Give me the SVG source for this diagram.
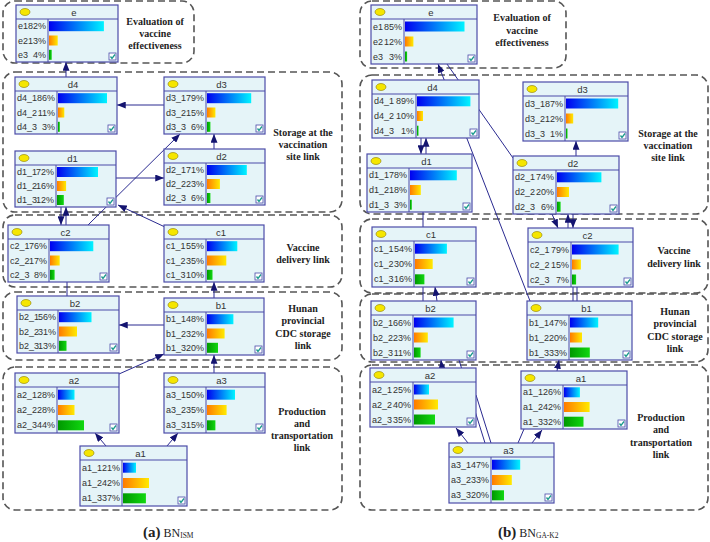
<svg xmlns="http://www.w3.org/2000/svg" width="710" height="542" viewBox="0 0 710 542">
<defs>
<style>
.nb{fill:#e5f4f8;stroke:#4b4ba8;stroke-width:1.2}
.nl{fill:none;stroke:#4b4ba8;stroke-width:1}
.el{fill:#f5e600;stroke:#8a7a00;stroke-width:0.6}
.tt{font-family:"Liberation Sans",Arial,sans-serif;font-size:9.5px;fill:#333;text-anchor:middle}
.rt{font-family:"Liberation Sans",Arial,sans-serif;font-size:9px;fill:#333}
.r{text-anchor:end}
.g1{fill:url(#gb)}.g2{fill:url(#go)}.g3{fill:url(#gg)}
.cb{fill:#fff;stroke:#4b4ba8;stroke-width:0.8}
.ck{fill:none;stroke:#1a9a8c;stroke-width:1.3}
.grp{fill:none;stroke:#555;stroke-width:1.6;stroke-dasharray:7 4}
.gl{font-family:"Liberation Serif","Times New Roman",serif;font-weight:bold;font-size:10px;fill:#222;text-anchor:middle}
.cn{fill:none;stroke:#2a2a90;stroke-width:1}
.ar{marker-end:url(#ah)}
.cap{font-family:"Liberation Serif","Times New Roman",serif;fill:#222}
</style>
<linearGradient id="gb" x1="0" y1="0" x2="1" y2="0"><stop offset="0" stop-color="#0000f0"/><stop offset="1" stop-color="#00f4ff"/></linearGradient>
<linearGradient id="go" x1="0" y1="0" x2="1" y2="0"><stop offset="0" stop-color="#ff7a00"/><stop offset="1" stop-color="#ffea00"/></linearGradient>
<linearGradient id="gg" x1="0" y1="0" x2="1" y2="0"><stop offset="0" stop-color="#009800"/><stop offset="1" stop-color="#10d810"/></linearGradient>
<marker id="ah" viewBox="0 0 10 8" refX="10" refY="4" markerWidth="9" markerHeight="7" orient="auto" markerUnits="userSpaceOnUse"><path d="M0,0 L10,4 L0,8 z" fill="#141470"/></marker>
</defs>
<rect width="710" height="542" fill="#fff"/>

<g id="groups">
<rect class="grp" x="3" y="1" width="191" height="62" rx="12"/>
<rect class="grp" x="3" y="72" width="339" height="140" rx="12"/>
<rect class="grp" x="3" y="215" width="339" height="72" rx="12"/>
<rect class="grp" x="3" y="292" width="339" height="68" rx="12"/>
<rect class="grp" x="3" y="367" width="339" height="143" rx="12"/>
<rect class="grp" x="360" y="1" width="206" height="67" rx="12"/>
<rect class="grp" x="360" y="75" width="348" height="139" rx="12"/>
<rect class="grp" x="360" y="219" width="348" height="74" rx="12"/>
<rect class="grp" x="360" y="294" width="348" height="68" rx="12"/>
<rect class="grp" x="360" y="365" width="348" height="145" rx="12"/>
<text class="gl" x="155" y="24.5">Evaluation of</text>
<text class="gl" x="155" y="36.5">vaccine</text>
<text class="gl" x="155" y="48.5">effectiveness</text>
<text class="gl" x="303" y="135.5">Storage at the</text>
<text class="gl" x="303" y="147.5">vaccination</text>
<text class="gl" x="303" y="159.5">site link</text>
<text class="gl" x="303" y="250.5">Vaccine</text>
<text class="gl" x="303" y="262.5">delivery link</text>
<text class="gl" x="303" y="311.5">Hunan</text>
<text class="gl" x="303" y="324">provincial</text>
<text class="gl" x="303" y="336.5">CDC storage</text>
<text class="gl" x="303" y="348.5">link</text>
<text class="gl" x="302" y="414.5">Production</text>
<text class="gl" x="302" y="426.5">and</text>
<text class="gl" x="302" y="439">transportation</text>
<text class="gl" x="302" y="450.5">link</text>
<text class="gl" x="522" y="21">Evaluation of</text>
<text class="gl" x="522" y="33.5">vaccine</text>
<text class="gl" x="522" y="46">effectiveness</text>
<text class="gl" x="668" y="136.5">Storage at the</text>
<text class="gl" x="668" y="148.5">vaccination</text>
<text class="gl" x="668" y="160.5">site link</text>
<text class="gl" x="674" y="253.5">Vaccine</text>
<text class="gl" x="674" y="266.5">delivery link</text>
<text class="gl" x="675" y="314.5">Hunan</text>
<text class="gl" x="675" y="326.5">provincial</text>
<text class="gl" x="675" y="339.5">CDC storage</text>
<text class="gl" x="675" y="351.5">link</text>
<text class="gl" x="661" y="420.5">Production</text>
<text class="gl" x="661" y="433">and</text>
<text class="gl" x="661" y="445.5">transportation</text>
<text class="gl" x="661" y="458">link</text>
</g>

<g id="connectors">
<line class="cn ar" x1="66" y1="77" x2="66" y2="62"/>
<line class="cn ar" x1="164" y1="105" x2="117" y2="105"/>
<line class="cn ar" x1="116" y1="178" x2="164" y2="178"/>
<line class="cn ar" x1="88" y1="225" x2="180" y2="134"/>
<line class="cn ar" x1="214" y1="149" x2="214" y2="134"/>
<line class="cn ar" x1="165" y1="227" x2="118" y2="205"/>
<line class="cn ar" x1="66" y1="225" x2="66" y2="207"/>
<line class="cn ar" x1="61" y1="207" x2="61" y2="225"/>
<line class="cn" x1="67" y1="282" x2="67" y2="296"/>
<line class="cn ar" x1="214" y1="298" x2="214" y2="282"/>
<line class="cn ar" x1="164" y1="325" x2="119" y2="325"/>
<line class="cn ar" x1="119" y1="374" x2="164" y2="354"/>
<line class="cn ar" x1="214" y1="373" x2="214" y2="355"/>
<line class="cn ar" x1="106" y1="446" x2="95" y2="433"/>
<line class="cn ar" x1="167" y1="446" x2="178" y2="433"/>

<line class="cn ar" x1="530" y1="301" x2="438" y2="64"/>
<line class="cn" x1="513" y1="158" x2="447" y2="64"/>
<line class="cn ar" x1="426" y1="154" x2="426" y2="138"/>
<line class="cn ar" x1="421" y1="138" x2="421" y2="154"/>
<line class="cn ar" x1="576" y1="156" x2="576" y2="141"/>
<line class="cn" x1="423" y1="212" x2="423" y2="227"/>
<line class="cn ar" x1="552" y1="214" x2="558" y2="228"/>
<line class="cn ar" x1="568" y1="228" x2="568" y2="214"/>
<line class="cn ar" x1="573" y1="214" x2="573" y2="228"/>
<line class="cn" x1="573" y1="287" x2="573" y2="301"/>
<line class="cn" x1="577" y1="287" x2="577" y2="301"/>
<line class="cn ar" x1="437" y1="301" x2="435" y2="287"/>
<line class="cn" x1="423" y1="287" x2="423" y2="301"/>
<line class="cn ar" x1="442" y1="368" x2="441" y2="360"/>
<line class="cn" x1="459" y1="360" x2="485" y2="443"/>
<line class="cn" x1="476" y1="395" x2="491" y2="443"/>
<line class="cn ar" x1="468" y1="443" x2="456" y2="428"/>
<line class="cn" x1="518" y1="443" x2="524" y2="429"/>
<line class="cn ar" x1="532" y1="443" x2="542" y2="430"/>
<line class="cn ar" x1="557" y1="371" x2="559" y2="360"/>
</g>

<g id="L-e" transform="translate(16,5)">
<rect class="nb" width="102" height="57"/><path class="nl" d="M0,14H102M32,14V57"/>
<ellipse class="el" cx="9" cy="7" rx="5" ry="3.5"/><text class="tt" x="58" y="10.5">e</text>
<text class="rt" y="24.2"><tspan x="2">e1</tspan> <tspan class="r" x="30">82%</tspan></text>
<text class="rt" y="38.5"><tspan x="2">e2</tspan> <tspan class="r" x="30">13%</tspan></text>
<text class="rt" y="52.8"><tspan x="2">e3</tspan> <tspan class="r" x="30">4%</tspan></text>
<rect class="g1" x="33" y="16.2" width="54.9" height="10"/><rect class="g2" x="33" y="30.5" width="8.7" height="10"/><rect class="g3" x="33" y="44.8" width="2.7" height="10"/>
<rect class="cb" x="93" y="48" width="7" height="7"/><path class="ck" d="M94.5,51.5l1.5,2l3,-4"/>
</g>
<g id="L-d4" transform="translate(15,77)">
<rect class="nb" width="102" height="57"/><path class="nl" d="M0,14H102M42,14V57"/>
<ellipse class="el" cx="9" cy="7" rx="5" ry="3.5"/><text class="tt" x="58" y="10.5">d4</text>
<text class="rt" y="24.2"><tspan x="2">d4_1</tspan> <tspan class="r" x="40">86%</tspan></text>
<text class="rt" y="38.5"><tspan x="2">d4_2</tspan> <tspan class="r" x="40">11%</tspan></text>
<text class="rt" y="52.8"><tspan x="2">d4_3</tspan> <tspan class="r" x="40">3%</tspan></text>
<rect class="g1" x="43" y="16.2" width="49" height="10"/><rect class="g2" x="43" y="30.5" width="6.3" height="10"/><rect class="g3" x="43" y="44.8" width="1.8" height="10"/>
<rect class="cb" x="93" y="48" width="7" height="7"/><path class="ck" d="M94.5,51.5l1.5,2l3,-4"/>
</g>
<g id="L-d3" transform="translate(164,77)">
<rect class="nb" width="101" height="57"/><path class="nl" d="M0,14H101M42,14V57"/>
<ellipse class="el" cx="9" cy="7" rx="5" ry="3.5"/><text class="tt" x="57.5" y="10.5">d3</text>
<text class="rt" y="24.2"><tspan x="2">d3_1</tspan> <tspan class="r" x="40">79%</tspan></text>
<text class="rt" y="38.5"><tspan x="2">d3_2</tspan> <tspan class="r" x="40">15%</tspan></text>
<text class="rt" y="52.8"><tspan x="2">d3_3</tspan> <tspan class="r" x="40">6%</tspan></text>
<rect class="g1" x="43" y="16.2" width="44.2" height="10"/><rect class="g2" x="43" y="30.5" width="8.4" height="10"/><rect class="g3" x="43" y="44.8" width="3.4" height="10"/>
<rect class="cb" x="92" y="48" width="7" height="7"/><path class="ck" d="M93.5,51.5l1.5,2l3,-4"/>
</g>
<g id="L-d1" transform="translate(15,151)">
<rect class="nb" width="101" height="56"/><path class="nl" d="M0,14H101M41,14V56"/>
<ellipse class="el" cx="9" cy="7" rx="5" ry="3.5"/><text class="tt" x="57.5" y="10.5">d1</text>
<text class="rt" y="24"><tspan x="2">d1_1</tspan> <tspan class="r" x="39">72%</tspan></text>
<text class="rt" y="38"><tspan x="2">d1_2</tspan> <tspan class="r" x="39">16%</tspan></text>
<text class="rt" y="52"><tspan x="2">d1_3</tspan> <tspan class="r" x="39">12%</tspan></text>
<rect class="g1" x="42" y="16" width="41" height="10"/><rect class="g2" x="42" y="30" width="9.1" height="10"/><rect class="g3" x="42" y="44" width="6.8" height="10"/>
<rect class="cb" x="92" y="47" width="7" height="7"/><path class="ck" d="M93.5,50.5l1.5,2l3,-4"/>
</g>
<g id="L-d2" transform="translate(164,149)">
<rect class="nb" width="101" height="56"/><path class="nl" d="M0,14H101M42,14V56"/>
<ellipse class="el" cx="9" cy="7" rx="5" ry="3.5"/><text class="tt" x="57.5" y="10.5">d2</text>
<text class="rt" y="24"><tspan x="2">d2_1</tspan> <tspan class="r" x="40">71%</tspan></text>
<text class="rt" y="38"><tspan x="2">d2_2</tspan> <tspan class="r" x="40">23%</tspan></text>
<text class="rt" y="52"><tspan x="2">d2_3</tspan> <tspan class="r" x="40">6%</tspan></text>
<rect class="g1" x="43" y="16" width="39.8" height="10"/><rect class="g2" x="43" y="30" width="12.9" height="10"/><rect class="g3" x="43" y="44" width="3.4" height="10"/>
<rect class="cb" x="92" y="47" width="7" height="7"/><path class="ck" d="M93.5,50.5l1.5,2l3,-4"/>
</g>
<g id="L-c2" transform="translate(8,225)">
<rect class="nb" width="101" height="57"/><path class="nl" d="M0,14H101M41,14V57"/>
<ellipse class="el" cx="9" cy="7" rx="5" ry="3.5"/><text class="tt" x="57.5" y="10.5">c2</text>
<text class="rt" y="24.2"><tspan x="2">c2_1</tspan> <tspan class="r" x="39">76%</tspan></text>
<text class="rt" y="38.5"><tspan x="2">c2_2</tspan> <tspan class="r" x="39">17%</tspan></text>
<text class="rt" y="52.8"><tspan x="2">c2_3</tspan> <tspan class="r" x="39">8%</tspan></text>
<rect class="g1" x="42" y="16.2" width="43.3" height="10"/><rect class="g2" x="42" y="30.5" width="9.7" height="10"/><rect class="g3" x="42" y="44.8" width="4.6" height="10"/>
<rect class="cb" x="92" y="48" width="7" height="7"/><path class="ck" d="M93.5,51.5l1.5,2l3,-4"/>
</g>
<g id="L-c1" transform="translate(164,225)">
<rect class="nb" width="100" height="57"/><path class="nl" d="M0,14H100M42,14V57"/>
<ellipse class="el" cx="9" cy="7" rx="5" ry="3.5"/><text class="tt" x="57" y="10.5">c1</text>
<text class="rt" y="24.2"><tspan x="2">c1_1</tspan> <tspan class="r" x="40">55%</tspan></text>
<text class="rt" y="38.5"><tspan x="2">c1_2</tspan> <tspan class="r" x="40">35%</tspan></text>
<text class="rt" y="52.8"><tspan x="2">c1_3</tspan> <tspan class="r" x="40">10%</tspan></text>
<rect class="g1" x="43" y="16.2" width="30.3" height="10"/><rect class="g2" x="43" y="30.5" width="19.3" height="10"/><rect class="g3" x="43" y="44.8" width="5.5" height="10"/>
<rect class="cb" x="91" y="48" width="7" height="7"/><path class="ck" d="M92.5,51.5l1.5,2l3,-4"/>
</g>
<g id="L-b2" transform="translate(17,296)">
<rect class="nb" width="102" height="57"/><path class="nl" d="M0,14H102M41,14V57"/>
<ellipse class="el" cx="9" cy="7" rx="5" ry="3.5"/><text class="tt" x="58" y="10.5">b2</text>
<text class="rt" y="24.2"><tspan x="2">b2_1</tspan> <tspan class="r" x="39">56%</tspan></text>
<text class="rt" y="38.5"><tspan x="2">b2_2</tspan> <tspan class="r" x="39">31%</tspan></text>
<text class="rt" y="52.8"><tspan x="2">b2_3</tspan> <tspan class="r" x="39">13%</tspan></text>
<rect class="g1" x="42" y="16.2" width="32.5" height="10"/><rect class="g2" x="42" y="30.5" width="18" height="10"/><rect class="g3" x="42" y="44.8" width="7.5" height="10"/>
<rect class="cb" x="93" y="48" width="7" height="7"/><path class="ck" d="M94.5,51.5l1.5,2l3,-4"/>
</g>
<g id="L-b1" transform="translate(164,298)">
<rect class="nb" width="100" height="57"/><path class="nl" d="M0,14H100M42,14V57"/>
<ellipse class="el" cx="9" cy="7" rx="5" ry="3.5"/><text class="tt" x="57" y="10.5">b1</text>
<text class="rt" y="24.2"><tspan x="2">b1_1</tspan> <tspan class="r" x="40">48%</tspan></text>
<text class="rt" y="38.5"><tspan x="2">b1_2</tspan> <tspan class="r" x="40">32%</tspan></text>
<text class="rt" y="52.8"><tspan x="2">b1_3</tspan> <tspan class="r" x="40">20%</tspan></text>
<rect class="g1" x="43" y="16.2" width="26.4" height="10"/><rect class="g2" x="43" y="30.5" width="17.6" height="10"/><rect class="g3" x="43" y="44.8" width="11" height="10"/>
<rect class="cb" x="91" y="48" width="7" height="7"/><path class="ck" d="M92.5,51.5l1.5,2l3,-4"/>
</g>
<g id="L-a2" transform="translate(15,373)">
<rect class="nb" width="104" height="60"/><path class="nl" d="M0,14H104M42,14V60"/>
<ellipse class="el" cx="9" cy="7" rx="5" ry="3.5"/><text class="tt" x="59" y="10.5">a2</text>
<text class="rt" y="24.7"><tspan x="2">a2_1</tspan> <tspan class="r" x="40">28%</tspan></text>
<text class="rt" y="40"><tspan x="2">a2_2</tspan> <tspan class="r" x="40">28%</tspan></text>
<text class="rt" y="55.3"><tspan x="2">a2_3</tspan> <tspan class="r" x="40">44%</tspan></text>
<rect class="g1" x="43" y="16.7" width="16.5" height="10"/><rect class="g2" x="43" y="32" width="16.5" height="10"/><rect class="g3" x="43" y="47.3" width="26" height="10"/>
<rect class="cb" x="95" y="51" width="7" height="7"/><path class="ck" d="M96.5,54.5l1.5,2l3,-4"/>
</g>
<g id="L-a3" transform="translate(164,373)">
<rect class="nb" width="101" height="60"/><path class="nl" d="M0,14H101M42,14V60"/>
<ellipse class="el" cx="9" cy="7" rx="5" ry="3.5"/><text class="tt" x="57.5" y="10.5">a3</text>
<text class="rt" y="24.7"><tspan x="2">a3_1</tspan> <tspan class="r" x="40">50%</tspan></text>
<text class="rt" y="40"><tspan x="2">a3_2</tspan> <tspan class="r" x="40">35%</tspan></text>
<text class="rt" y="55.3"><tspan x="2">a3_3</tspan> <tspan class="r" x="40">15%</tspan></text>
<rect class="g1" x="43" y="16.7" width="28" height="10"/><rect class="g2" x="43" y="32" width="19.6" height="10"/><rect class="g3" x="43" y="47.3" width="8.4" height="10"/>
<rect class="cb" x="92" y="51" width="7" height="7"/><path class="ck" d="M93.5,54.5l1.5,2l3,-4"/>
</g>
<g id="L-a1" transform="translate(80,446)">
<rect class="nb" width="107" height="60"/><path class="nl" d="M0,14H107M42,14V60"/>
<ellipse class="el" cx="9" cy="7" rx="5" ry="3.5"/><text class="tt" x="60.5" y="10.5">a1</text>
<text class="rt" y="24.7"><tspan x="2">a1_1</tspan> <tspan class="r" x="40">21%</tspan></text>
<text class="rt" y="40"><tspan x="2">a1_2</tspan> <tspan class="r" x="40">42%</tspan></text>
<text class="rt" y="55.3"><tspan x="2">a1_3</tspan> <tspan class="r" x="40">37%</tspan></text>
<rect class="g1" x="43" y="16.7" width="13" height="10"/><rect class="g2" x="43" y="32" width="26" height="10"/><rect class="g3" x="43" y="47.3" width="22.9" height="10"/>
<rect class="cb" x="98" y="51" width="7" height="7"/><path class="ck" d="M99.5,54.5l1.5,2l3,-4"/>
</g>

<g id="R-e" transform="translate(371,5)">
<rect class="nb" width="106" height="59"/><path class="nl" d="M0,14H106M33,14V59"/>
<ellipse class="el" cx="9" cy="7" rx="5" ry="3.5"/><text class="tt" x="60" y="10.5">e</text>
<text class="rt" y="24.5"><tspan x="2">e1</tspan> <tspan class="r" x="31">85%</tspan></text>
<text class="rt" y="39.5"><tspan x="2">e2</tspan> <tspan class="r" x="31">12%</tspan></text>
<text class="rt" y="54.5"><tspan x="2">e3</tspan> <tspan class="r" x="31">3%</tspan></text>
<rect class="g1" x="34" y="16.5" width="59.5" height="10"/><rect class="g2" x="34" y="31.5" width="8.4" height="10"/><rect class="g3" x="34" y="46.5" width="2.1" height="10"/>
<rect class="cb" x="97" y="50" width="7" height="7"/><path class="ck" d="M98.5,53.5l1.5,2l3,-4"/>
</g>
<g id="R-d4" transform="translate(372,80)">
<rect class="nb" width="107" height="58"/><path class="nl" d="M0,14H107M44,14V58"/>
<ellipse class="el" cx="9" cy="7" rx="5" ry="3.5"/><text class="tt" x="60.5" y="10.5">d4</text>
<text class="rt" y="24.3"><tspan x="2">d4_1</tspan> <tspan class="r" x="42">89%</tspan></text>
<text class="rt" y="39"><tspan x="2">d4_2</tspan> <tspan class="r" x="42">10%</tspan></text>
<text class="rt" y="53.7"><tspan x="2">d4_3</tspan> <tspan class="r" x="42">1%</tspan></text>
<rect class="g1" x="45" y="16.3" width="53.4" height="10"/><rect class="g2" x="45" y="31" width="6" height="10"/><rect class="g3" x="45" y="45.7" width="1.5" height="10"/>
<rect class="cb" x="98" y="49" width="7" height="7"/><path class="ck" d="M99.5,52.5l1.5,2l3,-4"/>
</g>
<g id="R-d3" transform="translate(523,82)">
<rect class="nb" width="105" height="59"/><path class="nl" d="M0,14H105M42,14V59"/>
<ellipse class="el" cx="9" cy="7" rx="5" ry="3.5"/><text class="tt" x="59.5" y="10.5">d3</text>
<text class="rt" y="24.5"><tspan x="2">d3_1</tspan> <tspan class="r" x="40">87%</tspan></text>
<text class="rt" y="39.5"><tspan x="2">d3_2</tspan> <tspan class="r" x="40">12%</tspan></text>
<text class="rt" y="54.5"><tspan x="2">d3_3</tspan> <tspan class="r" x="40">1%</tspan></text>
<rect class="g1" x="43" y="16.5" width="52.2" height="10"/><rect class="g2" x="43" y="31.5" width="7.2" height="10"/><rect class="g3" x="43" y="46.5" width="1.5" height="10"/>
<rect class="cb" x="96" y="50" width="7" height="7"/><path class="ck" d="M97.5,53.5l1.5,2l3,-4"/>
</g>
<g id="R-d1" transform="translate(367,154)">
<rect class="nb" width="105" height="58"/><path class="nl" d="M0,14H105M42,14V58"/>
<ellipse class="el" cx="9" cy="7" rx="5" ry="3.5"/><text class="tt" x="59.5" y="10.5">d1</text>
<text class="rt" y="24.3"><tspan x="2">d1_1</tspan> <tspan class="r" x="40">78%</tspan></text>
<text class="rt" y="39"><tspan x="2">d1_2</tspan> <tspan class="r" x="40">18%</tspan></text>
<text class="rt" y="53.7"><tspan x="2">d1_3</tspan> <tspan class="r" x="40">3%</tspan></text>
<rect class="g1" x="43" y="16.3" width="46.8" height="10"/><rect class="g2" x="43" y="31" width="10.8" height="10"/><rect class="g3" x="43" y="45.7" width="1.8" height="10"/>
<rect class="cb" x="96" y="49" width="7" height="7"/><path class="ck" d="M97.5,52.5l1.5,2l3,-4"/>
</g>
<g id="R-d2" transform="translate(513,156)">
<rect class="nb" width="106" height="58"/><path class="nl" d="M0,14H106M43,14V58"/>
<ellipse class="el" cx="9" cy="7" rx="5" ry="3.5"/><text class="tt" x="60" y="10.5">d2</text>
<text class="rt" y="24.3"><tspan x="2">d2_1</tspan> <tspan class="r" x="41">74%</tspan></text>
<text class="rt" y="39"><tspan x="2">d2_2</tspan> <tspan class="r" x="41">20%</tspan></text>
<text class="rt" y="53.7"><tspan x="2">d2_3</tspan> <tspan class="r" x="41">6%</tspan></text>
<rect class="g1" x="44" y="16.3" width="44.4" height="10"/><rect class="g2" x="44" y="31" width="12" height="10"/><rect class="g3" x="44" y="45.7" width="3.6" height="10"/>
<rect class="cb" x="97" y="49" width="7" height="7"/><path class="ck" d="M98.5,52.5l1.5,2l3,-4"/>
</g>
<g id="R-c1" transform="translate(372,227)">
<rect class="nb" width="104" height="60"/><path class="nl" d="M0,14H104M42,14V60"/>
<ellipse class="el" cx="9" cy="7" rx="5" ry="3.5"/><text class="tt" x="59" y="10.5">c1</text>
<text class="rt" y="24.7"><tspan x="2">c1_1</tspan> <tspan class="r" x="40">54%</tspan></text>
<text class="rt" y="40"><tspan x="2">c1_2</tspan> <tspan class="r" x="40">30%</tspan></text>
<text class="rt" y="55.3"><tspan x="2">c1_3</tspan> <tspan class="r" x="40">16%</tspan></text>
<rect class="g1" x="43" y="16.7" width="31.9" height="10"/><rect class="g2" x="43" y="32" width="17.7" height="10"/><rect class="g3" x="43" y="47.3" width="9.4" height="10"/>
<rect class="cb" x="95" y="51" width="7" height="7"/><path class="ck" d="M96.5,54.5l1.5,2l3,-4"/>
</g>
<g id="R-c2" transform="translate(528,228)">
<rect class="nb" width="105" height="59"/><path class="nl" d="M0,14H105M43,14V59"/>
<ellipse class="el" cx="9" cy="7" rx="5" ry="3.5"/><text class="tt" x="59.5" y="10.5">c2</text>
<text class="rt" y="24.5"><tspan x="2">c2_1</tspan> <tspan class="r" x="41">79%</tspan></text>
<text class="rt" y="39.5"><tspan x="2">c2_2</tspan> <tspan class="r" x="41">15%</tspan></text>
<text class="rt" y="54.5"><tspan x="2">c2_3</tspan> <tspan class="r" x="41">7%</tspan></text>
<rect class="g1" x="44" y="16.5" width="46.6" height="10"/><rect class="g2" x="44" y="31.5" width="8.9" height="10"/><rect class="g3" x="44" y="46.5" width="4.1" height="10"/>
<rect class="cb" x="96" y="50" width="7" height="7"/><path class="ck" d="M97.5,53.5l1.5,2l3,-4"/>
</g>
<g id="R-b2" transform="translate(371,301)">
<rect class="nb" width="105" height="59"/><path class="nl" d="M0,14H105M42,14V59"/>
<ellipse class="el" cx="9" cy="7" rx="5" ry="3.5"/><text class="tt" x="59.5" y="10.5">b2</text>
<text class="rt" y="24.5"><tspan x="2">b2_1</tspan> <tspan class="r" x="40">66%</tspan></text>
<text class="rt" y="39.5"><tspan x="2">b2_2</tspan> <tspan class="r" x="40">23%</tspan></text>
<text class="rt" y="54.5"><tspan x="2">b2_3</tspan> <tspan class="r" x="40">11%</tspan></text>
<rect class="g1" x="43" y="16.5" width="39.6" height="10"/><rect class="g2" x="43" y="31.5" width="13.8" height="10"/><rect class="g3" x="43" y="46.5" width="6.6" height="10"/>
<rect class="cb" x="96" y="50" width="7" height="7"/><path class="ck" d="M97.5,53.5l1.5,2l3,-4"/>
</g>
<g id="R-b1" transform="translate(527,301)">
<rect class="nb" width="105" height="59"/><path class="nl" d="M0,14H105M42,14V59"/>
<ellipse class="el" cx="9" cy="7" rx="5" ry="3.5"/><text class="tt" x="59.5" y="10.5">b1</text>
<text class="rt" y="24.5"><tspan x="2">b1_1</tspan> <tspan class="r" x="40">47%</tspan></text>
<text class="rt" y="39.5"><tspan x="2">b1_2</tspan> <tspan class="r" x="40">20%</tspan></text>
<text class="rt" y="54.5"><tspan x="2">b1_3</tspan> <tspan class="r" x="40">33%</tspan></text>
<rect class="g1" x="43" y="16.5" width="28.2" height="10"/><rect class="g2" x="43" y="31.5" width="12" height="10"/><rect class="g3" x="43" y="46.5" width="19.8" height="10"/>
<rect class="cb" x="96" y="50" width="7" height="7"/><path class="ck" d="M97.5,53.5l1.5,2l3,-4"/>
</g>
<g id="R-a2" transform="translate(370,368)">
<rect class="nb" width="106" height="59"/><path class="nl" d="M0,14H106M43,14V59"/>
<ellipse class="el" cx="9" cy="7" rx="5" ry="3.5"/><text class="tt" x="60" y="10.5">a2</text>
<text class="rt" y="24.5"><tspan x="2">a2_1</tspan> <tspan class="r" x="41">25%</tspan></text>
<text class="rt" y="39.5"><tspan x="2">a2_2</tspan> <tspan class="r" x="41">40%</tspan></text>
<text class="rt" y="54.5"><tspan x="2">a2_3</tspan> <tspan class="r" x="41">35%</tspan></text>
<rect class="g1" x="44" y="16.5" width="15" height="10"/><rect class="g2" x="44" y="31.5" width="24" height="10"/><rect class="g3" x="44" y="46.5" width="21" height="10"/>
<rect class="cb" x="97" y="50" width="7" height="7"/><path class="ck" d="M98.5,53.5l1.5,2l3,-4"/>
</g>
<g id="R-a1" transform="translate(521,371)">
<rect class="nb" width="106" height="58"/><path class="nl" d="M0,14H106M42,14V58"/>
<ellipse class="el" cx="9" cy="7" rx="5" ry="3.5"/><text class="tt" x="60" y="10.5">a1</text>
<text class="rt" y="24.3"><tspan x="2">a1_1</tspan> <tspan class="r" x="40">26%</tspan></text>
<text class="rt" y="39"><tspan x="2">a1_2</tspan> <tspan class="r" x="40">42%</tspan></text>
<text class="rt" y="53.7"><tspan x="2">a1_3</tspan> <tspan class="r" x="40">32%</tspan></text>
<rect class="g1" x="43" y="16.3" width="15.9" height="10"/><rect class="g2" x="43" y="31" width="25.6" height="10"/><rect class="g3" x="43" y="45.7" width="19.5" height="10"/>
<rect class="cb" x="97" y="49" width="7" height="7"/><path class="ck" d="M98.5,52.5l1.5,2l3,-4"/>
</g>
<g id="R-a3" transform="translate(449,443)">
<rect class="nb" width="105" height="60"/><path class="nl" d="M0,14H105M42,14V60"/>
<ellipse class="el" cx="9" cy="7" rx="5" ry="3.5"/><text class="tt" x="59.5" y="10.5">a3</text>
<text class="rt" y="24.7"><tspan x="2">a3_1</tspan> <tspan class="r" x="40">47%</tspan></text>
<text class="rt" y="40"><tspan x="2">a3_2</tspan> <tspan class="r" x="40">33%</tspan></text>
<text class="rt" y="55.3"><tspan x="2">a3_3</tspan> <tspan class="r" x="40">20%</tspan></text>
<rect class="g1" x="43" y="16.7" width="28.2" height="10"/><rect class="g2" x="43" y="32" width="19.8" height="10"/><rect class="g3" x="43" y="47.3" width="12" height="10"/>
<rect class="cb" x="96" y="51" width="7" height="7"/><path class="ck" d="M97.5,54.5l1.5,2l3,-4"/>
</g>

<g id="captions">
<text class="cap" x="143" y="537"><tspan font-weight="bold" font-size="15">(a)</tspan><tspan font-size="12"> BN</tspan><tspan font-size="7.5" dy="1">ISM</tspan></text>
<text class="cap" x="498" y="537"><tspan font-weight="bold" font-size="15">(b)</tspan><tspan font-size="12"> BN</tspan><tspan font-size="7.5" dy="1">GA-K2</tspan></text>
</g>
</svg>
